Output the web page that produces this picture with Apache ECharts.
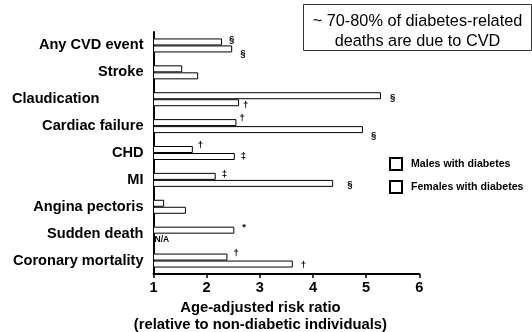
<!DOCTYPE html>
<html><head><meta charset="utf-8">
<script src="https://cdn.jsdelivr.net/npm/echarts@6/dist/echarts.min.js"></script>
<style>html,body{margin:0;padding:0;background:#fff}#c{width:532px;height:332px}</style>
</head><body><div id="c"></div>
<script>
const categories = ['Any CVD event','Stroke','Claudication','Cardiac failure','CHD','MI','Angina pectoris','Sudden death','Coronary mortality'];
const maleValues   = [2.29, 1.54, 5.28, 2.56, 1.74, 2.17, 1.20, 2.52, 2.39];
const femaleValues = [2.48, 1.84, 2.61, 4.94, 2.53, 4.38, 1.61, null, 3.62];
const maleSig   = ['§','','§','†','†','‡','','*','†'];
const femaleSig = ['§','','†','§','‡','§','','N/A','†'];
const xTicks = [1,2,3,4,5,6];

// label offsets (styling only)
const maleOff   = [[5,-3],[0,0],[7,2],[1,-4],[3,-4],[4,-2],[0,0],[6,-3],[4,-4]];
const femaleOff = [[6,4],[0,0],[2,3],[6,6],[4,0],[12,1],[0,0],[0,0],[6,1]];

const FONT = 'Liberation Sans, Arial, sans-serif';
const chart = echarts.init(document.getElementById('c'), null, {renderer:'canvas'});

function mk(vals, sigs, offs){
  return vals.map((v,i)=>{
    if (v === null) return {value:null};
    return {value:v, label:{show: !!sigs[i], formatter: sigs[i] || '', offset: offs[i]}};
  });
}

const catData = categories.map(c => c === 'Claudication'
  ? {value:c, textStyle:{padding:[0,44,8,0]}} : c);

chart.setOption({
  animation:false,
  backgroundColor:'#fff',
  grid:{left:153.5, right:112.7, top:32, bottom:58, containLabel:false, outerBoundsMode:'none'},
  legend:{
    orient:'vertical', left:384, top:152, itemWidth:12, itemHeight:12, itemGap:9,
    icon:'rect',
    textStyle:{fontFamily:FONT, fontWeight:'bold', fontSize:10.6, color:'#000', padding:[0,0,0,4]},
    data:['Males with diabetes','Females with diabetes']
  },
  xAxis:{
    type:'value', min:xTicks[0], max:xTicks[xTicks.length-1], interval:1,
    splitLine:{show:false},
    axisLine:{show:true, lineStyle:{color:'#000', width:2}},
    axisTick:{show:true, length:4, lineStyle:{color:'#000', width:1.5}},
    axisLabel:{fontFamily:FONT, fontWeight:'bold', fontSize:14.6, color:'#000', margin:6},
    name:'Age-adjusted risk ratio\n(relative to non-diabetic individuals)',
    nameLocation:'middle', nameGap:24,
    nameTextStyle:{fontFamily:FONT, fontWeight:'bold', fontSize:14.8, color:'#000', lineHeight:17, padding:[0,52,0,0]}
  },
  yAxis:{
    type:'category', inverse:true, data:catData,
    axisLine:{show:true, lineStyle:{color:'#000', width:2}},
    axisTick:{show:false},
    axisLabel:{fontFamily:FONT, fontWeight:'bold', fontSize:14.6, color:'#000', margin:10}
  },
  series:[
    {name:'Males with diabetes', type:'bar', barWidth:7, barGap:'0%',
     itemStyle:{color:'#fff', borderColor:'#000', borderWidth:1},
     label:{position:'right', distance:2, fontFamily:FONT, fontWeight:'bold', fontSize:9.5, color:'#000'},
     data: mk(maleValues, maleSig, maleOff)},
    {name:'Females with diabetes', type:'bar', barWidth:7, barGap:'0%',
     itemStyle:{color:'#fff', borderColor:'#000', borderWidth:1},
     label:{position:'right', distance:2, fontFamily:FONT, fontWeight:'bold', fontSize:9.5, color:'#000'},
     data: mk(femaleValues, femaleSig, femaleOff)}
  ]
});

// N/A marker for missing female value, positioned through the axes
const naIdx = femaleValues.findIndex(v => v === null);
const p = chart.convertToPixel({xAxisIndex:0, yAxisIndex:0}, [xTicks[0], categories[naIdx]]);
chart.setOption({
  graphic:[
    {type:'text', left:p[0]+1, top:p[1]+1,
     style:{text:femaleSig[naIdx], font:'bold 8.5px '+FONT, fill:'#000'}},
    {type:'group', left:303, top:4, children:[
      {type:'rect', shape:{x:0,y:0,width:228,height:46}, style:{fill:'#fff', stroke:'#333', lineWidth:1}},
      {type:'text', x:114, y:17, style:{text:'~ 70-80% of diabetes-related', font:'16.3px '+FONT, fill:'#000', textAlign:'center', textVerticalAlign:'middle'}},
      {type:'text', x:114, y:37, style:{text:'deaths are due to CVD', font:'16.3px '+FONT, fill:'#000', textAlign:'center', textVerticalAlign:'middle'}}
    ]}
  ]
});
</script></body></html>
